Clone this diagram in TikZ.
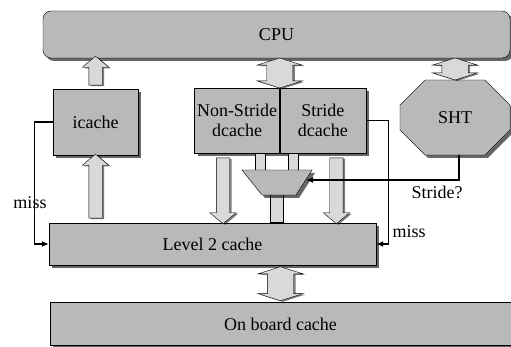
\documentclass[tikz,border=0pt]{standalone}
\usepackage{fontspec}
\setmainfont{Liberation Serif}
\usetikzlibrary{arrows.meta,positioning,calc,shapes.misc,shapes.arrows,shadows}

\begin{document}
\begin{tikzpicture}[x=1pt, y=-1pt, box/.style={draw, fill=gray!55, minimum height=65pt, inner sep=1pt, align=center, font=\fontsize{18}{20}\selectfont, drop shadow={shadow xshift=3pt, shadow yshift=-3pt, fill=black, opacity=0.6}}, barrow/.style={single arrow, draw, fill=gray!30, inner xsep=6.5pt, inner ysep=0pt, minimum width=0pt, single arrow head extend=6.5pt, single arrow head indent=0pt, single arrow tip angle=100, drop shadow={shadow xshift=2pt, shadow yshift=-1pt, fill=black, opacity=0.5}}, uparrow/.style={barrow, shape border rotate=90}, downarrow/.style={barrow, shape border rotate=270}, darrow/.style={double arrow, draw, fill=gray!30, inner xsep=13pt, inner ysep=0pt, minimum width=0pt, double arrow head extend=9.5pt, double arrow head indent=0pt, double arrow tip angle=145, shape border rotate=90, drop shadow={shadow xshift=2pt, shadow yshift=-1pt, fill=black, opacity=0.5}}, stub/.style={draw, fill=gray!30, inner sep=0pt, minimum width=10pt}, line/.style={line width=1.2pt}, arrow/.style={line, -{Latex[length=7pt,width=6pt]}}, lbl/.style={inner sep=0pt, font=\fontsize{18}{20}\selectfont}]
\useasboundingbox (0,0) rectangle (511,347);
\node[box, rounded corners=8pt, minimum width=467pt, minimum height=47pt] (cpu) at (276.5,34.5) {CPU};
\node[box, minimum width=85pt, minimum height=66pt] (icache) at (95.5,122) {icache};
\node[box, minimum width=85pt] (nsd) at (237,120.5) {Non-Stride\\dcache};
\node[box, minimum width=86pt, right=0pt of nsd] (sd) {Stride\\dcache};
\node[box, chamfered rectangle, chamfered rectangle xsep=18pt, chamfered rectangle ysep=20pt, minimum width=110pt, minimum height=75pt] (sht) at (455,117.5) {SHT};
\node[box, minimum width=327pt, minimum height=42pt] (l2) at (212.5,244) {Level 2 cache};
\node[box, minimum width=461pt, minimum height=43pt] (obc) at (280.5,324) {On board cache};
\coordinate (mux) at (277,182.5);
\coordinate (muxin) at (306,180);
\path (icache.north) -- (icache.north|-cpu.south) node[midway, uparrow, minimum height=29pt] (ic2cpu) {};
\path (l2.north-|icache.south) -- (icache.south) node[midway, uparrow, minimum height=64pt] (l22ic) {};
\path ([xshift=-14pt]nsd.south) -- ([xshift=-14pt]nsd.south|-l2.north) node[midway, downarrow, minimum height=66pt] (nsd2l2) {};
\path ([xshift=13.5pt]sd.south) -- ([xshift=13.5pt]sd.south|-l2.north) node[midway, downarrow, minimum height=66pt] (sd2l2) {};
\path (nsd.north east) -- (nsd.north east|-cpu.south) node[midway, darrow, minimum height=30pt] (cpu2d) {};
\path (sht.north) -- (sht.north|-cpu.south) node[midway, darrow, minimum height=22pt] (cpu2sht) {};
\path (l2.south-|obc.north) -- (obc.north) node[midway, darrow, minimum height=34pt] (l22obc) {};
\path ([xshift=23pt]nsd.south) -- ([xshift=23pt]nsd.south|-mux) node[pos=0.5, stub, minimum height=30pt] (nsdmux) {};
\path ([xshift=-29.5pt]sd.south) -- ([xshift=-29.5pt]sd.south|-mux) node[pos=0.5, stub, minimum height=30pt] (sdmux) {};
\path (mux) -- (mux|-l2.north) node[midway, stub, minimum width=13pt, minimum height=40pt] (mux2l2) {};
\filldraw[fill=gray!55, drop shadow={shadow xshift=3pt, shadow yshift=-3pt, fill=black, opacity=0.6}] ($(mux)+(-35,-12.5)$) -- ($(mux)+(35,-12.5)$) -- ($(mux)+(19,12.5)$) -- ($(mux)+(-15,12.5)$) -- cycle;
\node[lbl] (missl) at (30,203) {miss};
\node[lbl] (missr) at (409,232) {miss};
\node[lbl] (stride) at (437,192) {Stride?};
\draw[arrow] (icache.west) -- ++(-18,0) |- (l2.west);
\draw[arrow] (sd.east) -- ++(22,0) |- (l2.east);
\draw[arrow] ([xshift=4pt]sht.south) |- (muxin);
\end{tikzpicture}
\end{document}
